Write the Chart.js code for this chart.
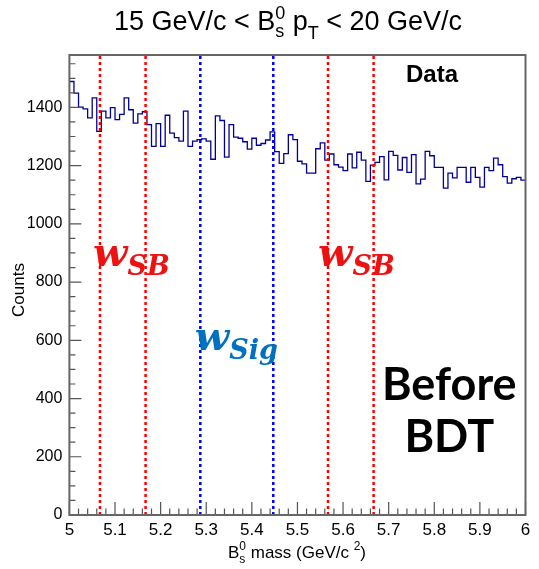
<!DOCTYPE html>
<html>
<head>
<meta charset="utf-8">
<script src="https://cdn.jsdelivr.net/npm/chart.js@4.4.0/dist/chart.umd.min.js"></script>
<style>
  html, body { margin: 0; padding: 0; background: #fff; }
  #wrap { width: 539px; height: 569px; }
</style>
</head>
<body>
<div id="wrap"><canvas id="massPlot" width="539" height="569"></canvas></div>
<script>
// Bs mass histogram, 100 bins from 5 to 6 GeV/c^2
var massLow = 5.0;
var massHigh = 6.0;
var binWidth = 0.01;
var counts = [
  1489,1449,1401,1395,1364,1433,1318,1387,1364,1399,
  1358,1376,1433,1392,1346,1378,1385,1341,1266,1344,
  1266,1373,1312,1296,1284,1387,1266,1284,1289,1292,
  1284,1222,1371,1355,1229,1341,1298,1294,1282,1257,
  1294,1270,1276,1288,1316,1248,1208,1241,1306,1289,
  1215,1206,1174,1174,1258,1278,1219,1240,1203,1195,
  1183,1240,1192,1246,1219,1146,1202,1211,1231,1151,
  1249,1235,1185,1228,1177,1238,1137,1154,1249,1234,
  1194,1194,1123,1174,1158,1194,1194,1143,1194,1160,
  1126,1194,1183,1226,1203,1162,1140,1155,1160,1150
];
var sidebandCuts = [5.067, 5.167, 5.567, 5.667];
var signalCuts = [5.287, 5.447];
var xTicks = [5, 5.1, 5.2, 5.3, 5.4, 5.5, 5.6, 5.7, 5.8, 5.9, 6];
var yTicks = [0, 200, 400, 600, 800, 1000, 1200, 1400];
var yMax = 1580;

var histPoints = [];
for (var i = 0; i < counts.length; i++) {
  histPoints.push({x: massLow + i * binWidth, y: counts[i]});
}
histPoints.push({x: massHigh, y: counts[counts.length - 1]});

var cutLine = function(x, color){
  return {
    data: [{x: x, y: 0}, {x: x, y: yMax}],
    borderColor: color,
    borderWidth: 2.5,
    borderDash: [3, 3],
    pointRadius: 0,
    fill: false
  };
};

var datasets = [];
sidebandCuts.forEach(function(c){ datasets.push(cutLine(c, '#ff0000')); });
signalCuts.forEach(function(c){ datasets.push(cutLine(c, '#0000ff')); });
datasets.push({
  data: histPoints,
  borderColor: '#000099',
  borderWidth: 1.3,
  stepped: true,
  pointRadius: 0,
  fill: false
});

var SANS = '"Liberation Sans", Arial, sans-serif';

// draw a row of text pieces, some raised or lowered; "hold" pieces stack with the next one
var drawRuns = function(ctx, runs, x, y, align){
  var total = 0, held = 0;
  runs.forEach(function(r){
    ctx.font = r.font;
    var w = ctx.measureText(r.text).width;
    if (r.hold) { held = w; return; }
    total += Math.max(w, held); held = 0;
  });
  var cx = align === 'center' ? x - total / 2 : x;
  held = 0;
  ctx.textAlign = 'left';
  ctx.textBaseline = 'alphabetic';
  runs.forEach(function(r){
    ctx.font = r.font;
    ctx.fillStyle = r.color || '#000';
    ctx.fillText(r.text, cx, y + (r.dy || 0));
    var w = ctx.measureText(r.text).width;
    if (r.hold) { held = w; return; }
    cx += Math.max(w, held); held = 0;
  });
};

var frameAndTicks = {
  id: 'frameAndTicks',
  afterDatasetsDraw: function(chart){
    var ctx = chart.ctx, a = chart.chartArea;
    var xs = chart.scales.x, ys = chart.scales.y;
    ctx.save();
    ctx.strokeStyle = '#555';
    ctx.lineWidth = 1.2;
    ctx.beginPath();
    for (var k = 0; k <= 50; k++) {
      var px = xs.getPixelForValue(massLow + k * 0.02);
      var len = (k % 5 === 0) ? 13 : 6.5;
      ctx.moveTo(px, a.bottom); ctx.lineTo(px, a.bottom - len);
    }
    for (var v = 0; v <= yMax; v += 50) {
      var py = ys.getPixelForValue(v);
      var l = (v % 200 === 0) ? 12 : 6;
      ctx.moveTo(a.left, py); ctx.lineTo(a.left + l, py);
    }
    ctx.stroke();
    ctx.lineWidth = 2;
    ctx.strokeStyle = '#666';
    ctx.strokeRect(a.left, a.top, a.right - a.left, a.bottom - a.top);
    ctx.restore();
  }
};

var labels = {
  id: 'labels',
  afterDraw: function(chart){
    var ctx = chart.ctx, a = chart.chartArea;
    var xs = chart.scales.x, ys = chart.scales.y;
    var X = function(v){ return xs.getPixelForValue(v); };
    var Y = function(v){ return ys.getPixelForValue(v); };
    ctx.save();

    // title
    var tf = '27px ' + SANS, sf = '18px ' + SANS;
    drawRuns(ctx, [
      {text: '15 GeV/c < B', font: tf},
      {text: 's', font: sf, dy: 7, hold: true},
      {text: '0', font: sf, dy: -11},
      {text: ' p', font: tf},
      {text: 'T', font: sf, dy: 9},
      {text: ' < 20 GeV/c', font: tf}
    ], 288, 30, 'center');

    // x axis title
    var af = '17px ' + SANS, asf = '12px ' + SANS;
    drawRuns(ctx, [
      {text: 'B', font: af},
      {text: 's', font: asf, dy: 5, hold: true},
      {text: '0', font: asf, dy: -8},
      {text: ' mass (GeV/c ', font: af},
      {text: '2', font: asf, dy: -8},
      {text: ')', font: af}
    ], 297, 558, 'center');

    // y axis title
    ctx.save();
    ctx.translate(24, 290);
    ctx.rotate(-Math.PI / 2);
    ctx.font = af;
    ctx.fillStyle = '#000';
    ctx.textAlign = 'center';
    ctx.textBaseline = 'alphabetic';
    ctx.fillText('Counts', 0, 0);
    ctx.restore();

    // legend text
    ctx.font = 'bold 24px ' + SANS;
    ctx.fillStyle = '#000';
    ctx.fillText('Data', X(5.738), Y(1488));

    // window labels
    var wf = 'italic bold 40px "DejaVu Serif", serif';
    var subf = 'italic bold 27px "DejaVu Serif", serif';
    drawRuns(ctx, [
      {text: 'w', font: wf, color: '#ee1111'},
      {text: 'SB', font: subf, color: '#ee1111', dy: 9}
    ], X(5.052), Y(854), 'left');
    drawRuns(ctx, [
      {text: 'w', font: wf, color: '#ee1111'},
      {text: 'SB', font: subf, color: '#ee1111', dy: 9}
    ], X(5.545), Y(854), 'left');
    drawRuns(ctx, [
      {text: 'w', font: wf, color: '#0070c0'},
      {text: 'Sig', font: subf, color: '#0070c0', dy: 9}
    ], X(5.275), Y(566), 'left');

    // note
    ctx.font = 'bold 45px Lato, "Open Sans", sans-serif';
    ctx.fillStyle = '#000';
    ctx.textAlign = 'center';
    ctx.fillText('Before', X(5.833), Y(394));
    ctx.fillText('BDT', X(5.833), Y(216));
    ctx.restore();
  }
};

var config = {
  type: 'line',
  data: {datasets: datasets},
  options: {
    responsive: false,
    devicePixelRatio: 1,
    animation: false,
    layout: {padding: {top: 55, right: 13.5, left: 0, bottom: 0}},
    plugins: {legend: {display: false}, tooltip: {enabled: false}, title: {display: false}},
    scales: {
      x: {
        type: 'linear',
        min: massLow,
        max: massHigh,
        grid: {display: false, drawTicks: false},
        border: {display: false},
        afterBuildTicks: function(s){ s.ticks = xTicks.map(function(v){ return {value: v}; }); },
        ticks: {
          autoSkip: false,
          maxRotation: 0,
          padding: 5,
          color: '#000',
          font: {family: SANS, size: 17},
          callback: function(v){ return String(v); }
        },
        afterFit: function(s){ s.height = 54; }
      },
      y: {
        min: 0,
        max: yMax,
        grid: {display: false, drawTicks: false},
        border: {display: false},
        afterBuildTicks: function(s){ s.ticks = yTicks.map(function(v){ return {value: v}; }); },
        ticks: {
          autoSkip: false,
          padding: 7,
          color: '#000',
          font: {family: SANS, size: 16},
          callback: function(v){ return String(v); }
        },
        afterFit: function(s){ s.width = 69.4; }
      }
    }
  },
  plugins: [frameAndTicks, labels]
};

var myChart = new Chart(document.getElementById('massPlot'), config);
</script>
</body>
</html>
